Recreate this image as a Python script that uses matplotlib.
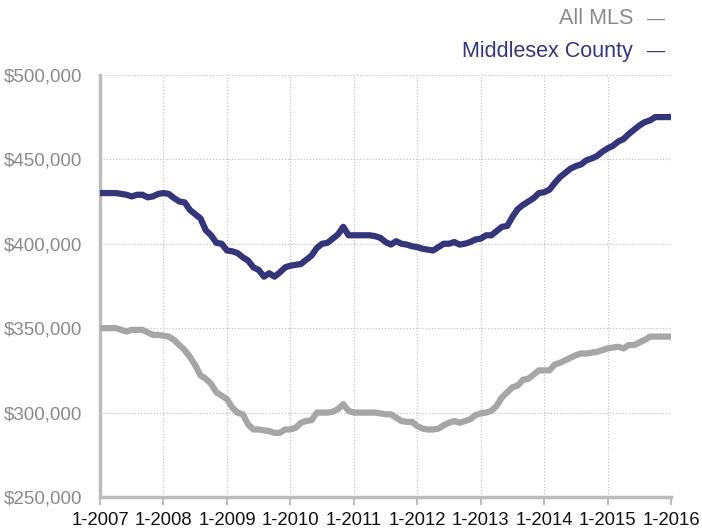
import numpy as np
import matplotlib.pyplot as plt
from matplotlib.ticker import FuncFormatter

plt.rcParams['font.family'] = ['Liberation Sans', 'DejaVu Sans']

# monthly median prices, 1-2007 .. 1-2016
middlesex = [
    430000, 430000, 430000, 430000, 429500, 429000, 428000, 429000, 429000, 427500,
    428000, 429500, 430000, 429500, 427000, 425000, 424500, 420000, 417500, 415000,
    408000, 405000, 400500, 400000, 396000, 395500, 394500, 392000, 390000, 386000,
    384500, 380500, 382500, 380500, 383000, 386000, 387000, 387500, 388000, 390500,
    393000, 397500, 400000, 400500, 403000, 405500, 410000, 405000, 405000, 405000,
    405000, 405000, 404500, 403500, 401000, 399500, 401500, 400000, 399500, 398500,
    398000, 397000, 396500, 396000, 398000, 400000, 400000, 401000, 399500, 400000,
    401000, 402500, 403000, 405000, 405000, 407500, 410000, 410500, 416000, 420500,
    423000, 425000, 427000, 430000, 430500, 432000, 436000, 439500, 442000, 444500,
    446000, 447000, 449500, 450500, 452000, 454500, 456500, 458000, 460500, 462000,
    465000, 467500, 470000, 472000, 473000, 475000, 475000, 475000, 475000,
]
all_mls = [
    350000, 350000, 350000, 350000, 349000, 348000, 349000, 349000, 349000, 347500,
    346000, 346000, 345500, 345000, 343000, 340000, 337000, 333000, 328000, 322000,
    320000, 317000, 312000, 310000, 308000, 303000, 300000, 299000, 293000, 290000,
    290000, 289500, 289000, 288000, 288000, 290000, 290000, 291000, 294000, 295000,
    295500, 300000, 300000, 300000, 300500, 302000, 305000, 301000, 300000, 300000,
    300000, 300000, 300000, 299500, 299000, 299000, 297000, 295000, 294500, 294500,
    292000, 290500, 290000, 290000, 290500, 292500, 294000, 295000, 294000, 295000,
    296000, 298500, 299500, 300000, 301000, 304000, 309000, 312000, 315000, 316000,
    319500, 320000, 322500, 325000, 325000, 325000, 328500, 329500, 331000, 332500,
    334000, 335000, 335000, 335500, 336000, 337000, 338000, 338500, 339000, 338000,
    340000, 340000, 341500, 343000, 345000, 345000, 345000, 345000, 345000,
]
years = list(range(2007, 2017))
year_labels = ["1-%d" % y for y in years]

navy = "#35367a"
gray = "#a6a6a6"
axis_gray = "#bdbdbd"
label_gray = "#8a8a8a"

months = np.arange(len(middlesex))

fig = plt.figure(figsize=(7.02, 5.31), dpi=100)
ax = fig.add_axes([0.1425, 0.064, 0.8135, 0.795])

ax.plot(months, all_mls, color=gray, lw=4.5, solid_joinstyle="round", zorder=3)
ax.plot(months, middlesex, color=navy, lw=4.5, solid_joinstyle="round", zorder=4)

ax.set_xlim(0, 108)
ax.set_ylim(250000, 500000)
ax.set_xticks([12 * i for i in range(len(years))])
ax.set_xticklabels(year_labels, fontsize=13.3, color="#111111")
ax.set_yticks(range(250000, 500001, 50000))
ax.yaxis.set_major_formatter(FuncFormatter(lambda v, p: "${:,.0f}".format(v)))
ax.tick_params(axis="y", length=0, pad=13, labelsize=13.5, labelcolor=label_gray)
ax.tick_params(axis="x", length=6, width=1.5, color=axis_gray, pad=5)

ax.grid(True, color="#c4c4c4", linestyle=(0, (1, 1.5)), lw=0.9)
for s in ["top", "right"]:
    ax.spines[s].set_visible(False)
for s in ["left", "bottom"]:
    ax.spines[s].set_color(axis_gray)
    ax.spines[s].set_linewidth(2.5)

# legend drawn as text at top right
fig.text(633 / 702, 1 - 19 / 531, "All MLS", ha="right", va="center", fontsize=15.5, color=label_gray)
fig.text(665 / 702, 1 - 19 / 531, "\u2014", ha="right", va="center", fontsize=13, color=label_gray)
fig.text(633 / 702, 1 - 51 / 531, "Middlesex County", ha="right", va="center", fontsize=15.5, color=navy)
fig.text(665 / 702, 1 - 51 / 531, "\u2014", ha="right", va="center", fontsize=13, color=navy)

fig.savefig("out.png", dpi=100)
